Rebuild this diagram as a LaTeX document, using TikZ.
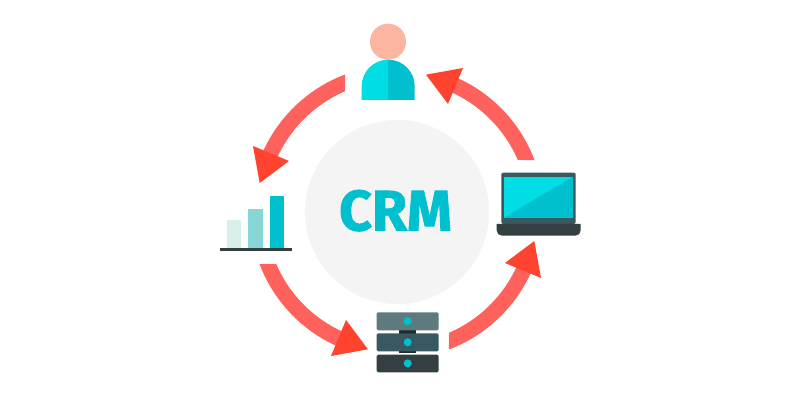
\documentclass[tikz,border=0pt]{standalone}
\usepackage{fontspec}
\setmainfont{Fira Sans}[BoldFeatures={FakeBold=1.6}]
\definecolor{teal1}{HTML}{00DDE5}
\definecolor{teal2}{HTML}{00BFCF}
\definecolor{skin}{HTML}{FBB5A0}
\definecolor{band}{HTML}{FF625C}
\definecolor{tip}{HTML}{FF432E}
\definecolor{disc}{HTML}{F4F4F4}
\definecolor{slate1}{HTML}{5E7A7C}
\definecolor{slate2}{HTML}{38595F}
\definecolor{slate3}{HTML}{343F41}
\definecolor{slate4}{HTML}{1F2A2A}
\definecolor{bar1}{HTML}{D9EFEC}
\definecolor{bar2}{HTML}{86D6D6}
\tikzset{
  bandfill/.style={fill=band,draw=none},
  tipfill/.style={fill=tip,draw=none},
  cyclearrow/.pic={
    \fill[bandfill] (20.7:147) arc[start angle=20.7,end angle=66,radius=147]
      -- (66:131.5) arc[start angle=66,end angle=23.3,radius=131.5] -- cycle;
    \fill[tipfill] (29,137.3) -- (66,144) -- (51,108) -- cycle;
  }
}
\begin{document}
\begin{tikzpicture}[x=1pt,y=1pt]
\useasboundingbox (0,0) rectangle (801,401);
\fill[white] (0,0) rectangle (801,401);
% y values below are 401 minus the image y
\coordinate (hub) at (397,189);
\node[circle,fill=disc,minimum size=184pt,inner sep=0pt] (crm) at (hub) {};
\node[inner sep=0pt,text=teal2,font=\fontsize{57}{57}\selectfont\bfseries,anchor=base] (crmlabel) at (395.5,170.6) {CRM};
% arrows
\foreach \a in {0,90,180,270}{
  \pic[rotate=\a] at (hub) {cyclearrow};
}
% person
\fill[skin] (388,359.3) circle[radius=18];
\fill[teal1] (361.7,301) -- (361.7,314.8) arc[start angle=180,end angle=90,radius=26.5] -- (388.2,301) -- cycle;
\fill[teal2] (388.2,301) -- (388.2,341.3) arc[start angle=90,end angle=0,radius=26.5] -- (414.7,301) -- cycle;
% laptop
\fill[slate2,rounded corners=2pt] (501.3,177) -- (501.3,228.3) -- (575.7,228.3) -- (575.7,177) -- cycle;
\fill[teal1] (504,224.3) rectangle (573,183.3);
\fill[teal2] (573,224.3) -- (573,183.3) -- (504,183.3) -- cycle;
\fill[slate3] (496.7,177) -- (580.7,177) -- (580.7,170.6) arc[start angle=0,end angle=-90,radius=5.3] -- (502,165.3) arc[start angle=270,end angle=180,radius=5.3] -- cycle;
% server
\fill[slate4] (399,48) rectangle (416.3,71);
\fill[slate1,rounded corners=1.5pt] (376.7,70.7) rectangle (438.7,88.7);
\fill[slate2,rounded corners=1.5pt] (376.7,49.7) rectangle (438.7,67.7);
\fill[slate3,rounded corners=1.5pt] (376.7,28.7) rectangle (438.7,46.3);
\fill[teal2] (407.7,79.7) circle[radius=4];
\fill[teal2] (407.7,58.7) circle[radius=4];
\fill[teal2] (407.7,37.7) circle[radius=4];
% bars
\fill[bar1] (227,153.3) rectangle (241.3,181);
\fill[bar2] (248.3,153.3) rectangle (263,192);
\fill[teal2] (270,153.3) rectangle (284.3,205);
\fill[slate3] (220,150) rectangle (291.7,153.3);
\end{tikzpicture}
\end{document}
